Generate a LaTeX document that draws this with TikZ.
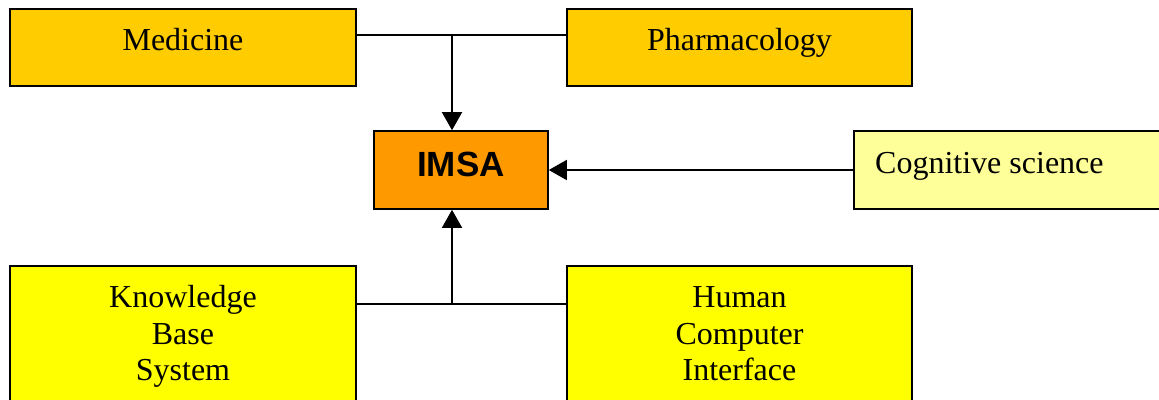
\documentclass[tikz,border=0pt]{standalone}
\usepackage{fontspec}
\setmainfont{Liberation Serif}
\setsansfont{Liberation Sans}
\usetikzlibrary{arrows.meta}
\definecolor{cMed}{HTML}{FFCC00}
\definecolor{cImsa}{HTML}{FF9900}
\definecolor{cCog}{HTML}{FFFF99}
\definecolor{cLow}{HTML}{FFFF00}
\tikzset{
  boxnode/.style={draw=black, line width=1.6pt, inner sep=0pt, minimum height=77pt},
  boxtext/.style={inner sep=0pt, align=center, anchor=north, font=\fontsize{32}{36.8}\selectfont},
  link/.style={line width=1.6pt},
  arrowlink/.style={line width=1.6pt, -{Triangle[length=18pt,width=20pt]}}
}
\newcommand{\topstrut}{\rule{0pt}{24pt}}
\begin{document}
\begin{tikzpicture}[x=1pt,y=-1pt]
\useasboundingbox (0,0) rectangle (1159,399);
\clip (0,0) rectangle (1159,399);
% boxes
\node[boxnode, fill=cMed, minimum width=346pt] (med) at (183,47.5) {};
\node[boxnode, fill=cMed, minimum width=345pt] (pha) at (739.5,47.5) {};
\node[boxnode, fill=cImsa, minimum width=174pt, minimum height=78pt,
      font=\sffamily\bfseries\fontsize{35}{40}\selectfont, text depth=11pt] (imsa) at (461,170) {IMSA};
\node[boxnode, fill=cCog, minimum width=356pt, minimum height=78pt] (cog) at (1032,170) {};
\node[boxnode, fill=cLow, minimum width=346pt, minimum height=154pt] (kbs) at (183,343) {};
\node[boxnode, fill=cLow, minimum width=345pt, minimum height=154pt] (hci) at (739.5,343) {};
% texts
\node[boxtext] (medt) at (183,26.5) {\topstrut Medicine};
\node[boxtext] (phat) at (739.5,26.5) {\topstrut Pharmacology};
\node[boxtext, anchor=north west, align=left] (cogt) at (875,149) {\topstrut Cognitive science};
\node[boxtext] (kbst) at (183,283) {\topstrut Knowledge\\Base\\System};
\node[boxtext] (hcit) at (739.5,283) {\topstrut Human\\Computer\\Interface};
% connectors
\coordinate (jt) at (452,35);
\coordinate (jb) at (452,304);
\draw[link] (med.east |- jt) -- (pha.west |- jt);
\draw[arrowlink] (jt) -- (jt |- imsa.north);
\draw[arrowlink] (cog.west) -- (imsa.east);
\draw[link] (kbs.east |- jb) -- (hci.west |- jb);
\draw[arrowlink] (jb) -- (jb |- imsa.south);
\end{tikzpicture}
\end{document}
